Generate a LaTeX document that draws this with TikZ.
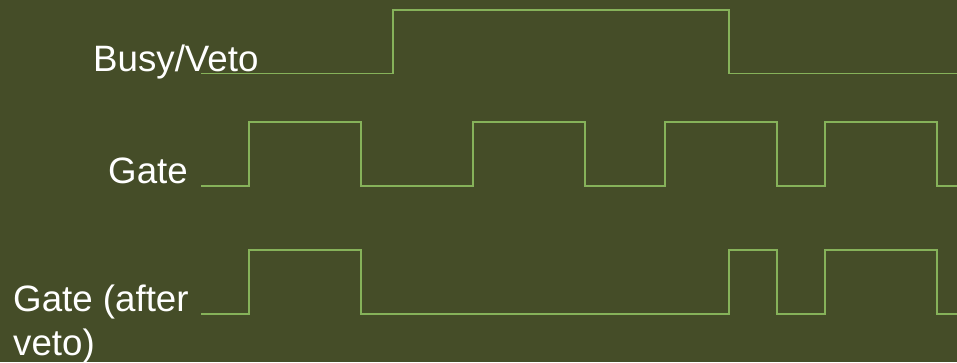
\documentclass[tikz,border=0pt]{standalone}
\usepackage{fontspec}
\setmainfont{Liberation Sans}
\usetikzlibrary{positioning}
\definecolor{SlideOlive}{HTML}{454D28}
\definecolor{TraceGreen}{HTML}{86B25A}

\begin{document}
\begin{tikzpicture}[
  x=1pt, y=1pt,
  trace/.style={draw=TraceGreen, line width=1.3pt, line join=miter},
  sig/.style={text=white, inner sep=0pt, font=\fontsize{36.7}{44}\selectfont}
]
\fill[SlideOlive] (0,0) rectangle (957,362);
\useasboundingbox (0,0) rectangle (957,362);

% signal names
\node[sig, anchor=base west] (busy) at (93,290) {Busy/Veto};
\node[sig, anchor=base east] (gate) at (188,179) {Gate};
\node[sig, anchor=base west, align=left] (after) at (13,7) {Gate (after\\veto)};

% waveforms
\draw[trace] (201,288.5) -- (393,288.5) |- (729,352) |- (957,288.5);
\draw[trace] (201,176) -- (249,176) |- (361,240) |- (473,176) |- (585,240)
  |- (665,176) |- (777,240) |- (825,176) |- (937,240) |- (957,176);
\draw[trace] (201,48) -- (249,48) |- (361,112) |- (729,48) |- (777,112)
  |- (825,48) |- (937,112) |- (957,48);
\end{tikzpicture}
\end{document}
